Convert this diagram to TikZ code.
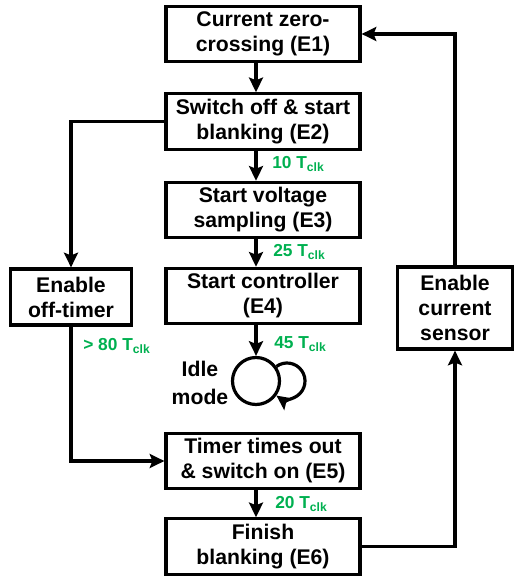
\documentclass[tikz,border=0pt]{standalone}
\usepackage{fontspec}
\setmainfont{Liberation Sans}
\usetikzlibrary{arrows.meta}
\definecolor{delaygreen}{HTML}{00B050}

\tikzset{
  evbox/.style={draw, line width=2.4pt, align=center, inner sep=0pt,
    minimum width=145.5pt, minimum height=41.5pt,
    font=\bfseries\fontsize{15.9}{18.75}\selectfont},
  flow/.style={line width=2.4pt, -{Stealth[length=11pt,width=10.5pt,inset=2pt]}},
  delay/.style={anchor=west, inner sep=0pt, text=delaygreen,
    font=\bfseries\fontsize{13}{14}\selectfont},
}

\begin{document}
\begin{tikzpicture}[x=0.75pt,y=0.75pt]
  \useasboundingbox (0,0) rectangle (517,-577);
  % main chain of events
  \node[evbox] (E1) at (263,-34) {Current zero-\\crossing (E1)};
  \node[evbox] (E2) at (263,-121.5) {Switch off \& start\\blanking (E2)};
  \node[evbox] (E3) at (263,-210) {Start voltage\\sampling (E3)};
  \node[evbox] (E4) at (263,-296) {Start controller\\(E4)};
  \node[evbox] (E5) at (263,-461) {Timer times out\\\& switch on (E5)};
  \node[evbox] (E6) at (263,-546.5) {Finish\\blanking (E6)};
  % side branches
  \node[evbox, minimum width=90.75pt, minimum height=42pt] (offtimer) at (71,-297) {Enable\\off-timer};
  \node[evbox, minimum width=86.25pt, minimum height=61.5pt] (sensor) at (455,-308) {Enable\\current\\sensor};
  % idle mode
  \node[draw, circle, line width=2.4pt, inner sep=0pt, minimum size=35.25pt] (idle) at (256,-381) {};
  \node[align=center, font=\bfseries\fontsize{15.9}{21.5}\selectfont] (idletxt) at (200,-383) {Idle\\mode};
  \coordinate (loopc) at (287,-381);

  \draw[flow] (E1.south -| idle) -- (E2.north -| idle);
  \draw[flow] (E2.south -| idle) -- (E3.north -| idle);
  \draw[flow] (E3.south -| idle) -- (E4.north -| idle);
  \draw[flow] (E4.south -| idle) -- (idle.north);
  \draw[flow] ([shift={(126:13.5pt)}]loopc) arc[start angle=126, end angle=-126, radius=13.5pt];
  \draw[flow] (E2.west) -| (offtimer.north);
  \draw[flow] (offtimer.south) |- (E5.west);
  \draw[flow] (E5.south -| idle) -- (E6.north -| idle);
  \draw[flow] (E6.east) -| (sensor.south);
  \draw[flow] (sensor.north) |- (E1.east);

  % delays
  \node[delay] (d10) at (272,-164) {10 T\textsubscript{clk}};
  \node[delay] (d25) at (273,-252) {25 T\textsubscript{clk}};
  \node[delay] (d45) at (274,-344) {45 T\textsubscript{clk}};
  \node[delay] (d80) at (83,-346) {> 80 T\textsubscript{clk}};
  \node[delay] (d20) at (275,-504) {20 T\textsubscript{clk}};
\end{tikzpicture}
\end{document}
